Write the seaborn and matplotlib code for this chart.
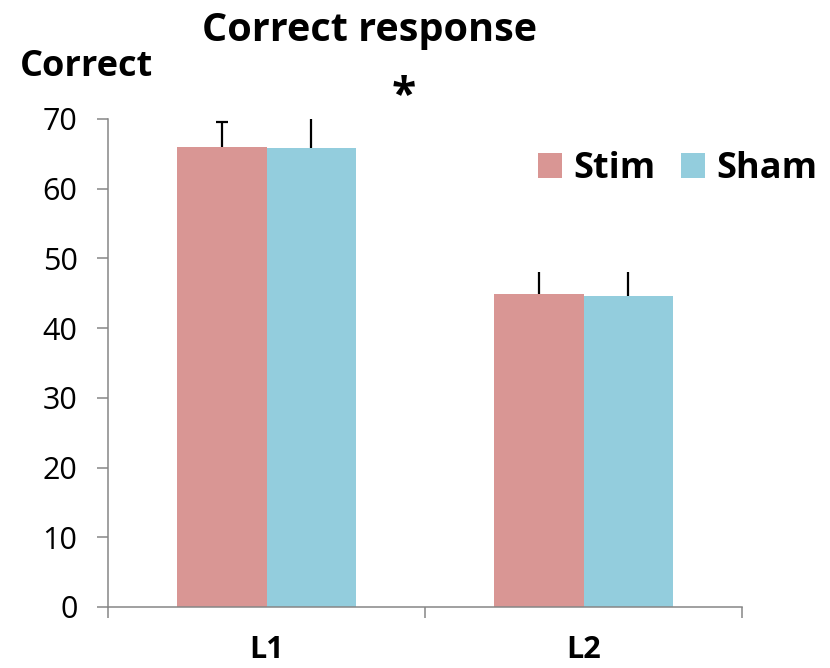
import matplotlib
matplotlib.use("Agg")
import matplotlib.pyplot as plt
import seaborn as sns
import pandas as pd
from matplotlib.patches import Patch

# Data
levels = ["L1", "L2"]
groups = ["Stim", "Sham"]
stim_mean = [66.0, 44.9]
sham_mean = [65.8, 44.6]
stim_err = [3.6, 3.2]
sham_err = [4.2, 3.5]
y_ticks = [0, 10, 20, 30, 40, 50, 60, 70]

colors = {"Stim": "#D99694", "Sham": "#93CDDD"}
axis_grey = "#868686"

df = pd.DataFrame({
    "level": levels * 2,
    "group": ["Stim"] * len(levels) + ["Sham"] * len(levels),
    "value": stim_mean + sham_mean,
    "err": stim_err + sham_err,
})

sns.set_style("white")
plt.rcParams["font.family"] = ["Open Sans", "DejaVu Sans"]
plt.rcParams["text.color"] = "black"
plt.rcParams["xtick.color"] = "black"
plt.rcParams["ytick.color"] = "black"

fig = plt.figure(figsize=(8.3, 6.68), dpi=100)
ax = fig.add_axes([108 / 830, 61 / 668, 634 / 830, 488 / 668])

sns.barplot(data=df, x="level", y="value", hue="group", order=levels,
            hue_order=groups, palette=colors, width=0.565, errorbar=None,
            linewidth=0, saturation=1, ax=ax, legend=False)

# Upper-only error bars; only the first bar carries a cap
bars = [p for p in ax.patches if p.get_height() > 0]
for i, bar in enumerate(bars):
    row = df.iloc[i]
    xc = bar.get_x() + bar.get_width() / 2
    top = row["value"] + row["err"]
    ax.vlines(xc, row["value"], top, color="black", linewidth=1.6,
              clip_on=False, zorder=3)
    if i == 0:
        ax.plot([xc], [top], marker="_", markersize=9, markeredgewidth=1.6,
                color="black", clip_on=False, zorder=3)

ax.set_xlim(-0.5, len(levels) - 0.5)
ax.set_ylim(0, 70)
ax.set_yticks(y_ticks)
ax.set_yticklabels([str(t) for t in y_ticks], fontsize=22)

# Category boundaries as tick marks, labels centred under the groups
ax.set_xticks([-0.5, 0.5, 1.5])
ax.set_xticklabels(["", "", ""])
ax.set_xticks(range(len(levels)), minor=True)
ax.set_xticklabels(levels, minor=True, fontsize=22, fontweight="bold")
ax.tick_params(axis="x", which="minor", length=0, pad=20)
ax.tick_params(axis="x", which="major", length=8, width=1.1, color=axis_grey,
               direction="out", bottom=True)
ax.tick_params(axis="y", length=8, width=1.1, color=axis_grey,
               direction="out", left=True, pad=14)

ax.set_xlabel("")
ax.set_ylabel("")
for side in ["top", "right"]:
    ax.spines[side].set_visible(False)
for side in ["left", "bottom"]:
    ax.spines[side].set_color(axis_grey)
    ax.spines[side].set_linewidth(1.1)

# Legend
handles = [Patch(facecolor=colors[g], edgecolor="none", label=g) for g in groups]
fig.legend(handles=handles, loc="center right", ncol=2, frameon=False,
           bbox_to_anchor=(817 / 830, 1 - 169 / 668),
           prop={"size": 26, "weight": "bold"},
           handlelength=0.67, handleheight=0.67, handletextpad=0.3,
           columnspacing=0.7, borderaxespad=0, borderpad=0)

fig.text(370 / 830, 1 - 30 / 668, "Correct response", ha="center", va="center",
         fontsize=28.5, fontweight="bold")
fig.text(86 / 830, 1 - 67 / 668, "Correct", ha="center", va="center",
         fontsize=26, fontweight="bold")
fig.text(404 / 830, 1 - 97 / 668, "*", ha="center", va="center",
         fontsize=32, fontweight="bold")

fig.savefig("out.png", dpi=100)
